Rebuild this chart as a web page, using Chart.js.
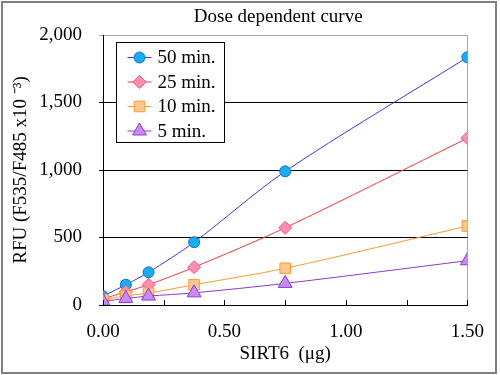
<!DOCTYPE html>
<html>
<head>
<meta charset="utf-8">
<script src="https://cdn.jsdelivr.net/npm/chart.js@4"></script>
<style>
  body { margin: 0; background: #fff; }
  #c { display: block; }
</style>
</head>
<body>
<canvas id="c" width="500" height="375"></canvas>
<script>
// SIRT6 dose (ug) and RFU readings per incubation time
var doses = [0, 0.094, 0.1875, 0.375, 0.75, 1.5];
var seriesNames = ["50 min.", "25 min.", "10 min.", "5 min."];
var min50 = [65, 150, 242, 465, 990, 1835];
var min25 = [45, 98, 150, 280, 572, 1236];
var min10 = [38, 68, 88, 150, 272, 585];
var min5 = [28, 48, 66, 90, 160, 328];
var yTicks = [0, 500, 1000, 1500, 2000];
var chartTitle = "Dose dependent curve";

var serif = "'Liberation Serif', 'Times New Roman', serif";
var allValues = [min50, min25, min10, min5];
var styles = [
  { line: "#3838f0", fill: "#14aff2", border: "#1a6fd0", shape: "circle", r: 5.5 },
  { line: "#ff3838", fill: "#ff8fb0", border: "#ff5585", shape: "rectRot", r: 6.5 },
  { line: "#ff9933", fill: "#ffc890", border: "#ff9933", shape: "rect", r: 7.5 },
  { line: "#8a3cc8", fill: "#c98af8", border: "#8a3cc8", shape: "triangle", r: 8 }
];

function drawMarker(ctx, st, x, y) {
  ctx.save();
  ctx.fillStyle = st.fill;
  ctx.strokeStyle = st.border;
  ctx.lineWidth = 1;
  if (Chart.helpers && Chart.helpers.drawPoint) {
    Chart.helpers.drawPoint(ctx, { pointStyle: st.shape, radius: st.r, rotation: 0, borderWidth: 1 }, x, y);
  } else {
    ctx.beginPath();
    ctx.arc(x, y, st.r, 0, Math.PI * 2);
    ctx.fill();
    ctx.stroke();
  }
  ctx.restore();
}

var framePlugin = {
  id: "frame",
  beforeDraw: function (chart) {
    var ctx = chart.ctx;
    ctx.save();
    ctx.fillStyle = "#fff";
    ctx.fillRect(0, 0, chart.width, chart.height);
    ctx.strokeStyle = "#808080";
    ctx.lineWidth = 2;
    ctx.strokeRect(2, 2, 494, 371);
    ctx.restore();
  },
  afterDraw: function (chart) {
    var ctx = chart.ctx;
    var area = chart.chartArea;
    var xs = chart.scales.x;
    ctx.save();
    // small inward ticks on the x axis
    ctx.strokeStyle = "#000";
    ctx.lineWidth = 1;
    xs.ticks.forEach(function (t) {
      var px = Math.round(xs.getPixelForValue(t.value)) + 0.5;
      ctx.beginPath();
      ctx.moveTo(px, area.bottom - 5);
      ctx.lineTo(px, area.bottom);
      ctx.stroke();
    });
    // title
    ctx.fillStyle = "#000";
    ctx.font = "19px " + serif;
    ctx.textAlign = "center";
    ctx.textBaseline = "middle";
    ctx.fillText(chartTitle, (area.left + area.right) / 2 - 7, 17);
    // legend box inside the plot
    var bx = area.left + 13.5, by = area.top + 7.5, bw = 108, bh = 100;
    ctx.fillStyle = "#fff";
    ctx.fillRect(bx, by, bw, bh);
    ctx.strokeStyle = "#000";
    ctx.strokeRect(bx, by, bw, bh);
    seriesNames.forEach(function (name, i) {
      var st = styles[i];
      var cy = by + 15 + i * 24.5;
      ctx.strokeStyle = st.line;
      ctx.beginPath();
      ctx.moveTo(bx + 11, cy);
      ctx.lineTo(bx + 35, cy);
      ctx.stroke();
      drawMarker(ctx, st, bx + 23, cy);
      ctx.fillStyle = "#000";
      ctx.textAlign = "left";
      ctx.textBaseline = "middle";
      ctx.font = "19px " + serif;
      ctx.fillText(name, bx + 41, cy + 1);
    });
    ctx.restore();
  }
};

var datasets = seriesNames.map(function (name, i) {
  var st = styles[i];
  return {
    label: name,
    data: doses.map(function (d, j) { return { x: d, y: allValues[i][j] }; }),
    borderColor: st.line,
    borderWidth: 1,
    backgroundColor: st.fill,
    pointBackgroundColor: st.fill,
    pointBorderColor: st.border,
    pointBorderWidth: 1,
    pointStyle: st.shape,
    pointRadius: st.r,
    tension: 0.3,
    order: seriesNames.length - 1 - i
  };
});

new Chart(document.getElementById("c"), {
  type: "line",
  data: { datasets: datasets },
  options: {
    responsive: false,
    animation: false,
    layout: { padding: { left: 0, right: 26, top: 35, bottom: 0 } },
    plugins: {
      legend: { display: false },
      title: { display: false },
      tooltip: { enabled: false }
    },
    scales: {
      x: {
        type: "linear",
        min: 0,
        max: 1.5,
        afterFit: function (s) { s.height = 70; },
        ticks: {
          stepSize: 0.25,
          autoSkip: false,
          maxRotation: 0,
          padding: 16,
          color: "#000",
          font: { family: serif, size: 19 },
          callback: function (v) {
            return Math.abs(v * 2 - Math.round(v * 2)) < 1e-6 ? v.toFixed(2) : "";
          }
        },
        grid: {
          drawTicks: false,
          color: function (c) { return c.tick && c.tick.value === 1.5 ? "#a8a8a8" : "rgba(0,0,0,0)"; }
        },
        border: { color: "#000" },
        title: {
          display: true,
          text: "SIRT6  (\u03bcg)",
          color: "#000",
          font: { family: serif, size: 19 },
          padding: { top: 0, bottom: 10 }
        }
      },
      y: {
        min: 0,
        max: 2000,
        afterFit: function (s) { s.width = 103; },
        afterBuildTicks: function (s) { s.ticks = yTicks.map(function (v) { return { value: v }; }); },
        ticks: {
          padding: 17,
          color: "#000",
          font: { family: serif, size: 19 },
          callback: function (v) { return v.toLocaleString("en-US"); }
        },
        grid: {
          tickLength: 4,
          color: function (c) { return c.tick && c.tick.value === 2000 ? "#a8a8a8" : "#000"; }
        },
        border: { color: "#000" },
        title: {
          display: true,
          text: "RFU (F535/F485 x10 \u207b\u00b3)",
          color: "#000",
          font: { family: serif, size: 19 },
          padding: { top: 10, bottom: 0 }
        }
      }
    }
  },
  plugins: [framePlugin]
});
</script>
</body>
</html>
